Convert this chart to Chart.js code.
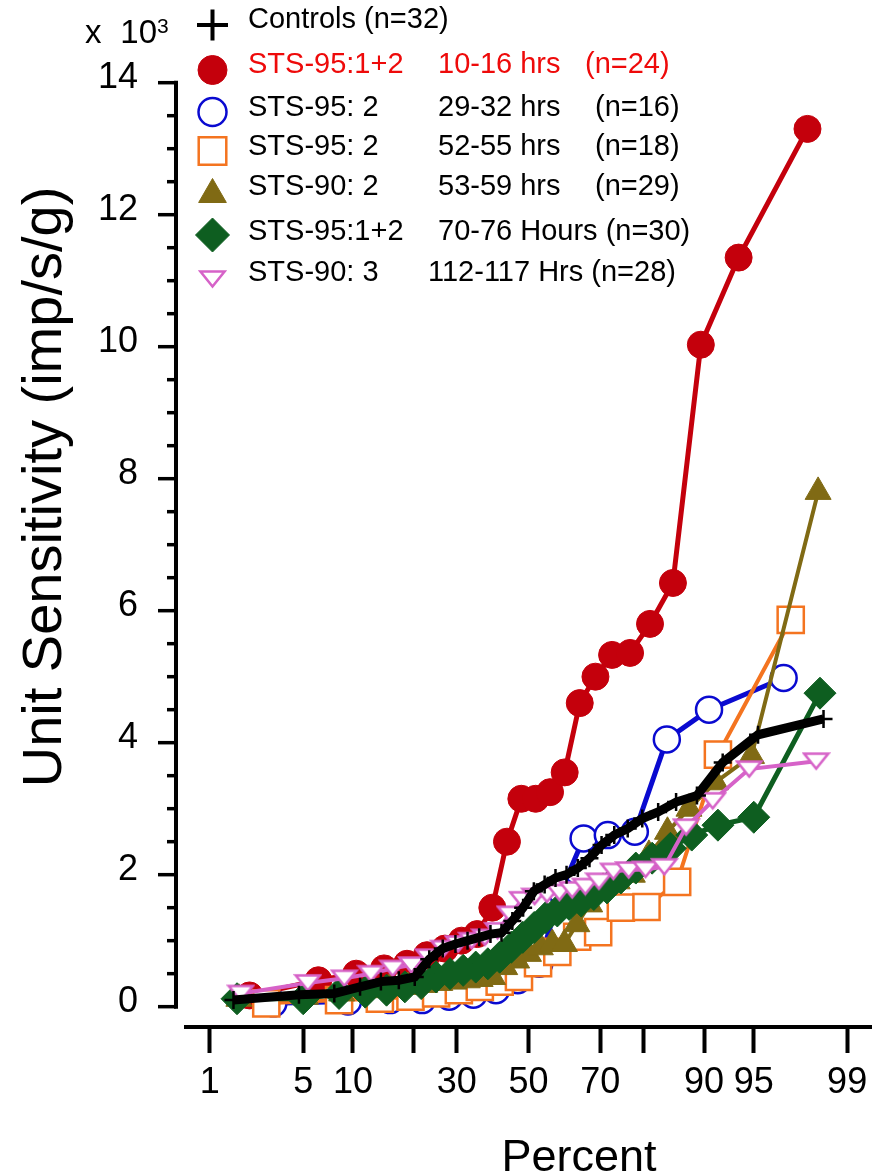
<!DOCTYPE html>
<html>
<head>
<meta charset="utf-8">
<title>Unit sensitivity distributions</title>
<script src="https://cdn.jsdelivr.net/npm/chart.js@4.4.1/dist/chart.umd.min.js"></script>
<style>
  html, body { margin: 0; padding: 0; background: #fff; }
  #wrap { position: relative; width: 873px; height: 1174px; }
</style>
</head>
<body>
<div id="wrap"><canvas id="chart"></canvas></div>
<script>
const FONT = '"Liberation Sans", Arial, Helvetica, sans-serif';

// ===================== DATA =====================
// cumulative percent axis (normal probability paper)
const xTickValues = [1, 5, 10, 20, 30, 50, 70, 80, 90, 95, 99];
const xTickLabels = ["1", "5", "10", "", "30", "50", "70", "", "90", "95", "99"];
const yTickValues = [0, 2, 4, 6, 8, 10, 12, 14];
const yMinorStep = 0.5;

// unit sensitivity, x10^3 imp/s/g, each group sorted ascending
const controls = [0.1, 0.18, 0.2, 0.3, 0.38, 0.4, 0.45, 0.72, 0.88, 0.95, 1.0, 1.05, 1.1, 1.12, 1.3, 1.5,
  1.75, 1.85, 1.95, 2.0, 2.1, 2.25, 2.45, 2.6, 2.7, 2.85, 2.95, 3.1, 3.2, 3.7, 4.12, 4.36];
const sts95_10h = [0.17, 0.4, 0.5, 0.58, 0.65, 0.78, 0.88, 1.0, 1.1, 1.5, 2.5, 3.15, 3.15, 3.25, 3.55, 4.6,
  5.0, 5.33, 5.36, 5.8, 6.42, 10.03, 11.35, 13.3];
const sts95_29h = [0.05, 0.08, 0.1, 0.1, 0.15, 0.18, 0.25, 0.4, 0.65, 1.75, 2.55, 2.6, 2.65, 4.05, 4.5, 4.98];
const sts95_52h = [0.05, 0.1, 0.12, 0.15, 0.2, 0.25, 0.3, 0.38, 0.45, 0.66, 0.83, 1.06, 1.13, 1.5, 1.51,
  1.89, 3.82, 5.86];
const sts90_53h = [0.12, 0.15, 0.2, 0.25, 0.28, 0.3, 0.33, 0.36, 0.38, 0.4, 0.42, 0.45, 0.6, 0.7, 0.8, 0.9,
  0.95, 0.95, 1.25, 1.55, 1.8, 1.9, 2.0, 2.3, 2.65, 3.0, 3.4, 3.8, 7.8];
const sts95_70h = [0.12, 0.12, 0.2, 0.22, 0.25, 0.3, 0.35, 0.45, 0.5, 0.55, 0.6, 0.65, 0.75, 0.9, 1.05, 1.2,
  1.35, 1.45, 1.55, 1.6, 1.7, 1.8, 1.95, 2.1, 2.25, 2.4, 2.6, 2.75, 2.87, 4.75];
const sts90_112h = [0.2, 0.36, 0.43, 0.5, 0.58, 0.63, 0.75, 0.88, 0.95, 1.0, 1.05, 1.15, 1.4, 1.62, 1.67, 1.7,
  1.73, 1.77, 1.82, 1.9, 2.05, 2.07, 2.08, 2.12, 2.72, 3.12, 3.6, 3.72];

const legendLabels = [
  ["Controls (n=32)"],
  ["STS-95:1+2", "10-16 hrs", "(n=24)"],
  ["STS-95: 2", "29-32 hrs", "(n=16)"],
  ["STS-95: 2", "52-55 hrs", "(n=18)"],
  ["STS-90: 2", "53-59 hrs", "(n=29)"],
  ["STS-95:1+2", "70-76 Hours (n=30)"],
  ["STS-90: 3", "112-117 Hrs (n=28)"],
];

// ===================== PROBIT SCALE =====================
// inverse normal CDF (Acklam)
function probit(p) {
  const a = [-39.69683028665376, 220.9460984245205, -275.9285104469687, 138.3577518672690, -30.66479806614716, 2.506628277459239];
  const b = [-54.47609879822406, 161.5858368580409, -155.6989798598866, 66.80131188771972, -13.28068155288572];
  const c = [-0.007784894002430293, -0.3223964580411365, -2.400758277161838, -2.549732539343734, 4.374664141464968, 2.938163982698783];
  const d = [0.007784695709041462, 0.3224671290700398, 2.445134137142996, 3.754408661907416];
  const plow = 0.02425;
  let q, r;
  if (p < plow) {
    q = Math.sqrt(-2 * Math.log(p));
    return (((((c[0] * q + c[1]) * q + c[2]) * q + c[3]) * q + c[4]) * q + c[5]) /
      ((((d[0] * q + d[1]) * q + d[2]) * q + d[3]) * q + 1);
  }
  if (p > 1 - plow) return -probit(1 - p);
  q = p - 0.5;
  r = q * q;
  return (((((a[0] * r + a[1]) * r + a[2]) * r + a[3]) * r + a[4]) * r + a[5]) * q /
    (((((b[0] * r + b[1]) * r + b[2]) * r + b[3]) * r + b[4]) * r + 1);
}

class ProbitScale extends Chart.Scale {
  static id = "probit";
  static defaults = {};
  parse(raw) {
    return raw === null || raw === undefined ? null : +raw;
  }
  determineDataLimits() {
    this.min = this.options.min;
    this.max = this.options.max;
  }
  buildTicks() {
    return xTickValues.map((v) => ({ value: v }));
  }
  configure() {
    super.configure();
    this._zStart = probit(this.min / 100);
    this._zRange = probit(this.max / 100) - this._zStart;
  }
  getLabelForValue(v) {
    return v.toFixed(1) + "%";
  }
  getPixelForValue(v) {
    return this.getPixelForDecimal((probit(v / 100) - this._zStart) / this._zRange);
  }
}
Chart.register(ProbitScale);

// plotting position (i - 0.5) / n for ranked values
function cumulative(values) {
  return values.map((v, i) => ({ x: ((i + 0.5) / values.length) * 100, y: v }));
}

function downTriangle(w, h, color, lw) {
  const c = document.createElement("canvas");
  c.width = w + lw * 2;
  c.height = h + lw * 2;
  const g = c.getContext("2d");
  g.beginPath();
  g.moveTo(lw, lw);
  g.lineTo(lw + w, lw);
  g.lineTo(lw + w / 2, lw + h);
  g.closePath();
  g.fillStyle = "#fff";
  g.fill();
  g.lineWidth = lw;
  g.strokeStyle = color;
  g.stroke();
  return c;
}
const pinkTriangle = downTriangle(24, 15, "#d662c8", 2.5);

// ===================== SERIES =====================
const series = [
  { data: controls, color: "#000", width: 9, style: "cross", radius: 9, fill: "#000", pbw: 2.5, order: 0 },
  { data: sts95_10h, color: "#c4000c", width: 5, style: "circle", radius: 13.5, fill: "#c4000c", pbw: 1, order: 6 },
  { data: sts95_29h, color: "#0a0ad0", width: 5, style: "circle", radius: 13, fill: "#fff", pbw: 2.5, order: 5 },
  { data: sts95_52h, color: "#f47420", width: 4, style: "rect", radius: 18.5, fill: "#fff", pbw: 2.5, order: 4 },
  { data: sts90_53h, color: "#806a14", width: 4, style: "triangle", radius: 15, fill: "#806a14", pbw: 1, order: 3 },
  { data: sts95_70h, color: "#0e5e20", width: 5, style: "rectRot", radius: 16, fill: "#0e5e20", pbw: 1, order: 2 },
  { data: sts90_112h, color: "#d662c8", width: 4, style: pinkTriangle, radius: 13, fill: "#fff", pbw: 2.5, order: 1 },
];

const datasets = series.map((s, i) => ({
  label: legendLabels[i].join(" "),
  data: cumulative(s.data),
  order: s.order,
  borderColor: s.color,
  borderWidth: s.width,
  tension: 0,
  pointStyle: s.style,
  pointRadius: s.radius,
  pointBackgroundColor: s.fill,
  pointBorderColor: s.color,
  pointBorderWidth: s.pbw,
  clip: false,
}));

// ===================== DECORATIONS =====================
const legendRows = [20, 65, 108, 147, 187, 232, 273];
const legendMarkerY = [25, 70, 112, 151, 194.5, 235, 279];
const legendCols = [248, 438, 595];

const decorations = {
  id: "decorations",
  afterDraw(chart) {
    const { ctx, chartArea } = chart;
    const y = chart.scales.y;
    const axisX = chartArea.left - 10;
    const top = yTickValues[yTickValues.length - 1];
    ctx.save();

    // detached y axis with minor ticks
    ctx.strokeStyle = "#000";
    ctx.lineWidth = 4;
    ctx.beginPath();
    ctx.moveTo(axisX, y.getPixelForValue(top) - 2);
    ctx.lineTo(axisX, y.getPixelForValue(0) + 2);
    ctx.stroke();
    ctx.lineWidth = 3.5;
    for (let v = 0; v <= top + 1e-9; v += yMinorStep) {
      const py = y.getPixelForValue(v);
      const len = yTickValues.includes(v) ? 18 : 9;
      ctx.beginPath();
      ctx.moveTo(axisX - len, py);
      ctx.lineTo(axisX, py);
      ctx.stroke();
    }

    // axis titles
    ctx.fillStyle = "#000";
    ctx.textAlign = "center";
    ctx.textBaseline = "alphabetic";
    ctx.font = "45px " + FONT;
    ctx.fillText("Percent", 579, 1171);
    ctx.save();
    ctx.translate(61, 487);
    ctx.rotate(-Math.PI / 2);
    ctx.font = "56px " + FONT;
    ctx.fillText("Unit Sensitivity (imp/s/g)", 0, 0);
    ctx.restore();

    // x 10^3 multiplier
    ctx.font = "33px " + FONT;
    ctx.textAlign = "left";
    ctx.fillText("x", 85, 43);
    ctx.textAlign = "right";
    ctx.fillText("10", 157, 43);
    ctx.textAlign = "left";
    ctx.font = "21px " + FONT;
    ctx.fillText("3", 157, 33);

    // legend
    ctx.textBaseline = "middle";
    ctx.font = "29px " + FONT;
    const helpers = Chart.helpers;
    chart.data.datasets.forEach((ds, i) => {
      const s = series[i];
      const big = i === 0;
      ctx.fillStyle = s.fill;
      ctx.strokeStyle = s.color;
      ctx.lineWidth = big ? 4 : s.pbw;
      helpers.drawPoint(ctx, {
        pointStyle: s.style,
        radius: big ? 15.5 : s.radius + 1,
        rotation: 0,
        borderWidth: big ? 4 : s.pbw,
      }, 212.5, legendMarkerY[i]);
      ctx.fillStyle = i === 1 ? "#ee0a0a" : "#000";
      legendLabels[i].forEach((part, k) => {
        let x = legendCols[k];
        if (i === 1 && k === 2) x -= 10;
        if (k === 1 && i === 6) x -= 10;
        ctx.fillText(part, x, legendRows[i]);
      });
    });
    ctx.restore();
  },
};

new Chart(document.getElementById("chart"), {
  type: "line",
  data: { datasets },
  options: {
    responsive: true,
    maintainAspectRatio: false,
    animation: false,
    events: [],
    layout: { autoPadding: false, padding: { top: 82.7, right: 2, bottom: 0, left: 0 } },
    plugins: { legend: { display: false }, tooltip: { enabled: false } },
    scales: {
      x: {
        type: "probit",
        min: 0.62,
        max: 99.38,
        grid: { display: true, drawOnChartArea: false, drawTicks: true, tickLength: 26, tickWidth: 4, tickColor: "#000" },
        border: { display: true, width: 4, color: "#000" },
        ticks: {
          autoSkip: false,
          maxRotation: 0,
          padding: 8,
          color: "#000",
          font: { family: FONT, size: 36 },
          callback: (v, i) => xTickLabels[i],
        },
        afterFit: (s) => {
          s.height = 147;
          s.paddingLeft = 0;
          s.paddingRight = 0;
        },
      },
      y: {
        type: "linear",
        min: -0.308,
        max: 14,
        afterBuildTicks: (s) => { s.ticks = yTickValues.map((v) => ({ value: v })); },
        grid: { display: false, drawTicks: false },
        border: { display: false },
        ticks: {
          padding: 48,
          labelOffset: -5,
          color: "#000",
          font: { family: FONT, size: 36 },
          callback: (v) => String(v),
        },
        afterFit: (s) => { s.width = 186; },
      },
    },
  },
  plugins: [decorations],
});
</script>
</body>
</html>
